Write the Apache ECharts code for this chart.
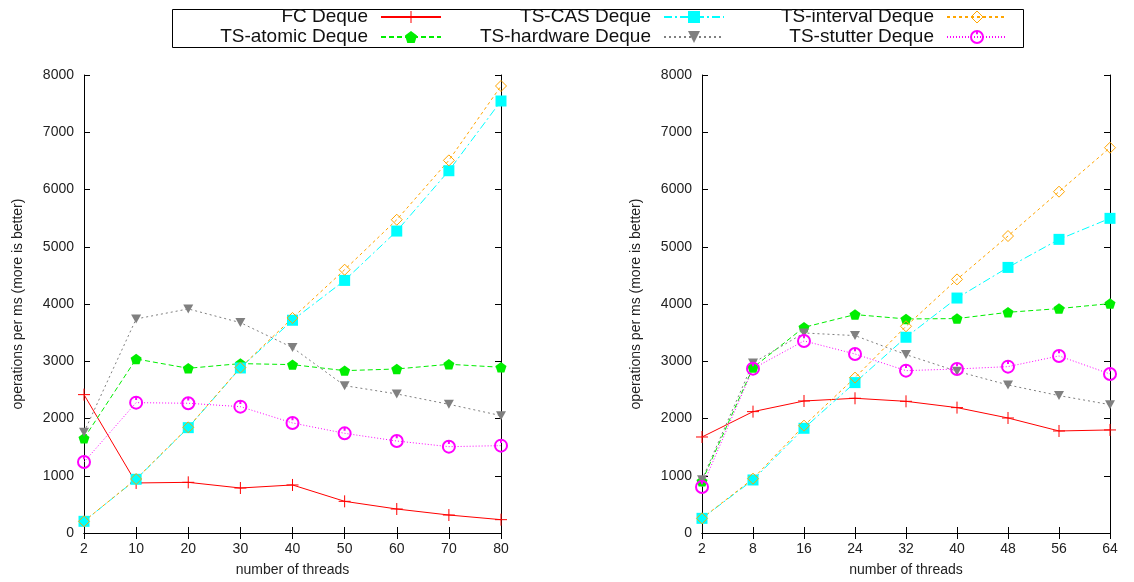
<!DOCTYPE html>
<html>
<head>
<meta charset="utf-8">
<script src="https://cdn.jsdelivr.net/npm/echarts@6/dist/echarts.min.js"></script>
<style>
html,body{margin:0;padding:0;background:#fff;}
#chart{width:1134px;height:582px;}
</style>
</head>
<body>
<div id="chart"></div>
<script>
// ---- data ----
const threadsLeft = ['2','10','20','30','40','50','60','70','80'];
const threadsRight = ['2','8','16','24','32','40','48','56','64'];
const seriesNames = ['FC Deque','TS-atomic Deque','TS-CAS Deque','TS-hardware Deque','TS-interval Deque','TS-stutter Deque'];

const fcLeft       = [2417, 874, 885, 786, 839, 553, 419, 314, 233];
const atomicLeft   = [1654, 3040, 2877, 2959, 2941, 2836, 2865, 2947, 2895];
const casLeft      = [204, 938, 1840, 2883, 3716, 4412, 5274, 6328, 7546];
const hardwareLeft = [1759, 3739, 3914, 3675, 3238, 2574, 2429, 2248, 2050];
const intervalLeft = [204, 943, 1846, 2889, 3756, 4599, 5472, 6509, 7808];
const stutterLeft  = [1240, 2277, 2266, 2207, 1922, 1741, 1607, 1508, 1526];

const fcRight       = [1677, 2120, 2306, 2353, 2300, 2190, 2009, 1782, 1800];
const atomicRight   = [903, 2889, 3593, 3815, 3739, 3745, 3855, 3920, 4007];
const casRight      = [256, 926, 1829, 2627, 3419, 4104, 4639, 5129, 5496];
const hardwareRight = [932, 2970, 3494, 3448, 3116, 2825, 2586, 2400, 2242];
const intervalRight = [256, 949, 1875, 2714, 3611, 4430, 5187, 5962, 6730];
const stutterRight  = [804, 2871, 3355, 3127, 2836, 2865, 2906, 3093, 2778];

const yTicks = [0, 1000, 2000, 3000, 4000, 5000, 6000, 7000, 8000];

// ---- styles ----
const FONT = 'Liberation Sans, Arial, Helvetica, sans-serif';
const styles = {
  'FC Deque': {color:'#ff0000', dash:'solid', symbol:'path://M-1,0L1,0M0,-1L0,1', size:12, fill:'#ff0000', bw:1},
  'TS-atomic Deque': {color:'#00ee00', dash:[5,3], symbol:'path://M0,-1L0.951,-0.309L0.588,0.809L-0.588,0.809L-0.951,-0.309Z', size:11, fill:'#00ee00', bw:0},
  'TS-CAS Deque': {color:'#00ffff', dash:[8,3,2,3], symbol:'rect', size:11, fill:'#00ffff', bw:0},
  'TS-hardware Deque': {color:'#808080', dash:[2,3], symbol:'path://M-1,-0.9L1,-0.9L0,0.9Z', size:10, fill:'#808080', bw:0},
  'TS-interval Deque': {color:'#ffa500', dash:[3,3], symbol:'diamond', size:11, fill:'rgba(0,0,0,0)', bw:1},
  'TS-stutter Deque': {color:'#ff00ff', dash:[1,2], symbol:'path://M0,-1A1,1,0,1,1,0,1A1,1,0,1,1,0,-1ZM0,-1L0,-0.45', size:12, fill:'rgba(0,0,0,0)', bw:2}
};

const leftData = [fcLeft, atomicLeft, casLeft, hardwareLeft, intervalLeft, stutterLeft];
const rightData = [fcRight, atomicRight, casRight, hardwareRight, intervalRight, stutterRight];

function makeSeries(name, data, idx) {
  const s = styles[name];
  return {
    name: name,
    type: 'line',
    xAxisIndex: idx * 2,
    yAxisIndex: idx * 2,
    data: data,
    symbol: s.symbol,
    symbolSize: s.size,
    symbolKeepAspect: true,
    showAllSymbol: true,
    animation: false,
    lineStyle: {color: s.color, width: 1, type: s.dash},
    itemStyle: {color: s.fill, borderColor: s.color, borderWidth: s.bw},
    emphasis: {disabled: true},
    z: 3
  };
}

const series = [];
seriesNames.forEach((n, i) => series.push(makeSeries(n, leftData[i], 0)));
seriesNames.forEach((n, i) => series.push(makeSeries(n, rightData[i], 1)));

const grids = [
  {left: 84, right: 633, top: 75, height: 458, containLabel: false},
  {left: 702, right: 24, top: 75, height: 458, containLabel: false}
];

function xAxes(cats, gi) {
  return [
    {
      type: 'category', gridIndex: gi, data: cats, boundaryGap: false, position: 'bottom',
      name: 'number of threads', nameLocation: 'middle', nameGap: 30,
      nameTextStyle: {fontFamily: FONT, fontSize: 14, color: '#222'},
      axisLine: {show: true, lineStyle: {color: '#000', width: 1}},
      axisTick: {show: true, inside: true, length: 6, alignWithLabel: true, lineStyle: {color: '#000'}},
      axisLabel: {fontFamily: FONT, fontSize: 14, color: '#222', margin: 9, interval: 0},
      splitLine: {show: false}
    },
    {
      type: 'category', gridIndex: gi, data: cats, boundaryGap: false, position: 'top',
      axisLine: {show: true, lineStyle: {color: '#000', width: 1}},
      axisTick: {show: true, inside: true, length: 6, lineStyle: {color: '#000'}},
      axisLabel: {show: false},
      splitLine: {show: false}
    }
  ];
}

function yAxes(gi) {
  return [
    {
      type: 'value', gridIndex: gi, min: yTicks[0], max: yTicks[yTicks.length - 1], interval: 1000, position: 'left',
      name: 'operations per ms (more is better)', nameLocation: 'middle', nameGap: 59, nameRotate: 90,
      nameTextStyle: {fontFamily: FONT, fontSize: 14, color: '#222'},
      axisLine: {show: true, lineStyle: {color: '#000', width: 1}},
      axisTick: {show: true, inside: true, length: 6, lineStyle: {color: '#000'}},
      axisLabel: {fontFamily: FONT, fontSize: 14, color: '#222', margin: 10, formatter: v => String(v)},
      splitLine: {show: false}
    },
    {
      type: 'value', gridIndex: gi, min: yTicks[0], max: yTicks[yTicks.length - 1], interval: 1000, position: 'right',
      axisLine: {show: true, lineStyle: {color: '#000', width: 1}},
      axisTick: {show: true, inside: true, length: 6, lineStyle: {color: '#000'}},
      axisLabel: {show: false},
      splitLine: {show: false}
    }
  ];
}

function legendData(names) {
  return names.map(n => {
    const s = styles[n];
    return {name: n, itemStyle: {color: s.fill, borderColor: s.color, borderWidth: s.bw}};
  });
}

function makeLegend(names, rightPx) {
  return {
    orient: 'vertical', align: 'right', right: rightPx, top: 7, padding: 0,
    itemWidth: 60, itemHeight: 15, itemGap: 0,
    data: legendData(names),
    selectedMode: false,
    textStyle: {fontFamily: FONT, fontSize: 19, lineHeight: 20, color: '#111', padding: [0, 8, 0, 0]}
  };
}

const option = {
  backgroundColor: '#fff',
  animation: false,
  grid: grids,
  xAxis: [...xAxes(threadsLeft, 0), ...xAxes(threadsRight, 1)],
  yAxis: [...yAxes(0), ...yAxes(1)],
  legend: [
    makeLegend([seriesNames[0], seriesNames[1]], 692),
    makeLegend([seriesNames[2], seriesNames[3]], 409),
    makeLegend([seriesNames[4], seriesNames[5]], 126)
  ],
  graphic: [{
    type: 'rect', left: 170, top: 7,
    shape: {width: 851, height: 38},
    style: {fill: 'none', stroke: '#000', lineWidth: 1}
  }],
  series: series
};

const chart = echarts.init(document.getElementById('chart'), null, {renderer: 'canvas'});
chart.setOption(option);
</script>
</body>
</html>
